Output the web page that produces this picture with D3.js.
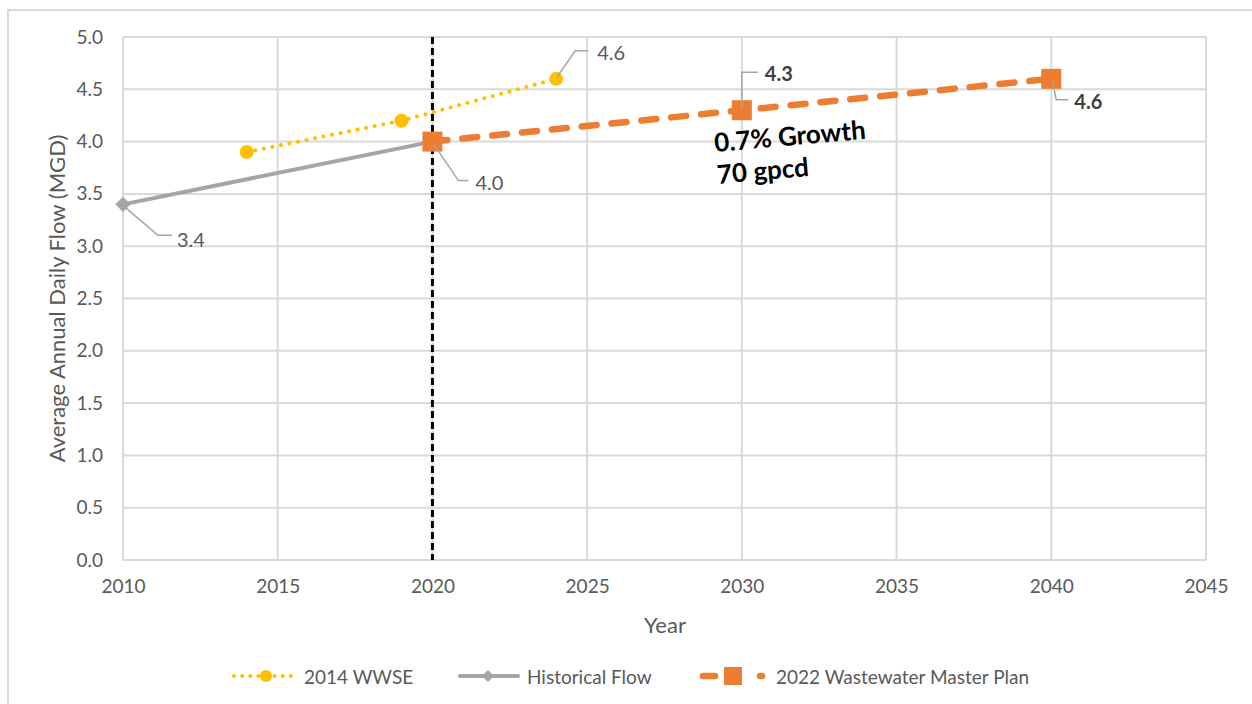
<!DOCTYPE html>
<html>
<head>
<meta charset="utf-8">
<script src="https://cdn.jsdelivr.net/npm/d3@7/dist/d3.min.js"></script>
<style>
  html, body { margin: 0; padding: 0; background: #ffffff; }
  svg { display: block; font-family: Lato, "Open Sans", sans-serif; }
</style>
</head>
<body>
<svg id="chart" width="1252" height="704"></svg>
<script>
// ---- data ----
const wwseYears = [2014, 2019, 2024];
const wwseFlow  = [3.9, 4.2, 4.6];
const histYears = [2010, 2020];
const histFlow  = [3.4, 4.0];
const planYears = [2020, 2030, 2040];
const planFlow  = [4.0, 4.3, 4.6];
const xTicks = [2010, 2015, 2020, 2025, 2030, 2035, 2040, 2045];
const yTicks = [0, 0.5, 1, 1.5, 2, 2.5, 3, 3.5, 4, 4.5, 5];
const seriesNames = ["2014 WWSE", "Historical Flow", "2022 Wastewater Master Plan"];
const currentYear = 2020;
const growthNote = ["0.7% Growth", "70 gpcd"];
const xTitle = "Year";
const yTitle = "Average Annual Daily Flow (MGD)";

const zip = (xs, ys) => xs.map((x, i) => ({ x, y: ys[i] }));
const wwse = zip(wwseYears, wwseFlow);
const hist = zip(histYears, histFlow);
const plan = zip(planYears, planFlow);

// ---- layout ----
const svg = d3.select("#chart");
const plotL = 123, plotR = 1206, plotT = 37, plotB = 560;
const x = d3.scaleLinear().domain([2010, 2045]).range([plotL, plotR]);
const y = d3.scaleLinear().domain([0, 5]).range([plotB, plotT]);

const YELLOW = "#FFC000", GREY = "#A5A5A5", ORANGE = "#ED7D31";
const GRID = "#D9D9D9", TEXT = "#595959";

// outer frame
svg.append("rect")
  .attr("x", 8).attr("y", 10).attr("width", 1300).attr("height", 760)
  .attr("fill", "none").attr("stroke", GRID).attr("stroke-width", 2);

// gridlines
const grid = svg.append("g");
grid.selectAll("line.h").data(yTicks).join("line").attr("class", "h")
  .attr("x1", plotL).attr("x2", plotR)
  .attr("y1", d => y(d)).attr("y2", d => y(d))
  .attr("stroke", GRID).attr("stroke-width", 2);
grid.selectAll("line.v").data(xTicks).join("line").attr("class", "v")
  .attr("y1", plotT).attr("y2", plotB)
  .attr("x1", d => x(d)).attr("x2", d => x(d))
  .attr("stroke", GRID).attr("stroke-width", 2);

// axes (labels only)
const yAxis = svg.append("g").attr("transform", `translate(${plotL},0)`)
  .call(d3.axisLeft(y).tickValues(yTicks).tickFormat(d3.format(".1f")).tickSize(0).tickPadding(20));
yAxis.select(".domain").remove();
yAxis.selectAll("text").attr("fill", TEXT).style("font-size", "19px").style("font-family", "Lato, sans-serif");

const xAxis = svg.append("g").attr("transform", `translate(0,${plotB})`)
  .call(d3.axisBottom(x).tickValues(xTicks).tickFormat(d3.format("d")).tickSize(0).tickPadding(20));
xAxis.select(".domain").remove();
xAxis.selectAll("text").attr("fill", TEXT).style("font-size", "19px").style("font-family", "Lato, sans-serif");

// axis titles
svg.append("text").text(xTitle)
  .attr("x", 665).attr("y", 624).attr("text-anchor", "middle").attr("dominant-baseline", "central")
  .attr("fill", TEXT).style("font-size", "22px");
svg.append("text").text(yTitle)
  .attr("transform", `translate(56,${(plotT + plotB) / 2}) rotate(-90)`)
  .attr("text-anchor", "middle").attr("dominant-baseline", "central")
  .attr("fill", TEXT).style("font-size", "22px");

// vertical marker for the current year
svg.append("line")
  .attr("x1", x(currentYear)).attr("x2", x(currentYear))
  .attr("y1", plotT).attr("y2", plotB)
  .attr("stroke", "#000").attr("stroke-width", 3).attr("stroke-dasharray", "7,4");

const line = d3.line().x(d => x(d.x)).y(d => y(d.y));

// 2014 WWSE - dotted yellow with circles
svg.append("path").datum(wwse).attr("d", line)
  .attr("fill", "none").attr("stroke", YELLOW).attr("stroke-width", 4)
  .attr("stroke-linecap", "round").attr("stroke-dasharray", "0.1,8.6");
svg.selectAll("circle.wwse").data(wwse).join("circle").attr("class", "wwse")
  .attr("cx", d => x(d.x)).attr("cy", d => y(d.y)).attr("r", 7).attr("fill", YELLOW);

// Historical flow - solid grey with diamonds
svg.append("path").datum(hist).attr("d", line)
  .attr("fill", "none").attr("stroke", GREY).attr("stroke-width", 4);
svg.selectAll("path.hist").data(hist).join("path").attr("class", "hist")
  .attr("transform", d => `translate(${x(d.x)},${y(d.y)})`)
  .attr("d", d3.symbol(d3.symbolDiamond2, 150)).attr("fill", GREY);

// 2022 master plan - dashed orange with squares
svg.append("path").datum(plan).attr("d", line)
  .attr("fill", "none").attr("stroke", ORANGE).attr("stroke-width", 6.5)
  .attr("stroke-linecap", "round").attr("stroke-dasharray", "15,15");
svg.selectAll("rect.plan").data(plan).join("rect").attr("class", "plan")
  .attr("x", d => x(d.x) - 10).attr("y", d => y(d.y) - 10)
  .attr("width", 20).attr("height", 20).attr("fill", ORANGE);

// data labels with leader lines: [elbow dx, elbow dy, end dx, text dx, text dy]
function callout(d, geo, bold) {
  const px = x(d.x), py = y(d.y);
  const [ex, ey, endx, tx, ty] = geo;
  svg.append("polyline")
    .attr("points", `${px + Math.sign(ex) * 1},${py + Math.sign(ey) * 2} ${px + ex},${py + ey} ${px + endx},${py + ey}`)
    .attr("fill", "none").attr("stroke", GREY).attr("stroke-width", 1.5);
  svg.append("text").text(d3.format(".1f")(d.y))
    .attr("x", px + tx).attr("y", py + ty).attr("dominant-baseline", "central")
    .attr("fill", bold ? "#404040" : TEXT)
    .style("font-size", "20px").style("font-weight", bold ? 700 : 400);
}
callout(wwse[2], [19, -28, 32, 41, -27], false);
callout(hist[0], [35, 31, 49, 54, 35], false);
callout(hist[1], [26, 39, 36, 43, 40], false);
callout(plan[1], [0, -38, 16, 23, -37], true);
callout(plan[2], [5, 21, 17, 23, 22], true);

// growth note
const note = svg.append("text")
  .attr("transform", "translate(715,152) rotate(-5)")
  .attr("fill", "#000").style("font-size", "26px").style("font-weight", 700);
note.selectAll("tspan").data(growthNote).join("tspan")
  .attr("x", 0).attr("dy", (d, i) => i === 0 ? 0 : 32).text(d => d);

// legend
const legY = 676;
const leg = svg.append("g");
// 2014 WWSE
leg.append("line").attr("x1", 234).attr("x2", 292).attr("y1", legY).attr("y2", legY)
  .attr("stroke", YELLOW).attr("stroke-width", 4).attr("stroke-linecap", "round").attr("stroke-dasharray", "0.1,8");
leg.append("circle").attr("cx", 266).attr("cy", legY).attr("r", 6).attr("fill", YELLOW);
// Historical
leg.append("line").attr("x1", 460).attr("x2", 518).attr("y1", legY).attr("y2", legY)
  .attr("stroke", GREY).attr("stroke-width", 4).attr("stroke-linecap", "round");
leg.append("path").attr("transform", `translate(488,${legY})`)
  .attr("d", d3.symbol(d3.symbolDiamond2, 90)).attr("fill", GREY);
// Master plan
leg.append("line").attr("x1", 703).attr("x2", 762).attr("y1", legY).attr("y2", legY)
  .attr("stroke", ORANGE).attr("stroke-width", 6.5).attr("stroke-linecap", "round").attr("stroke-dasharray", "12,45");
leg.append("rect").attr("x", 724).attr("y", legY - 9).attr("width", 18).attr("height", 18).attr("fill", ORANGE);

const legText = [304, 527, 776];
leg.selectAll("text").data(seriesNames).join("text")
  .attr("x", (d, i) => legText[i]).attr("y", legY).attr("dominant-baseline", "central")
  .attr("fill", TEXT).style("font-size", "19px").text(d => d);
</script>
</body>
</html>
